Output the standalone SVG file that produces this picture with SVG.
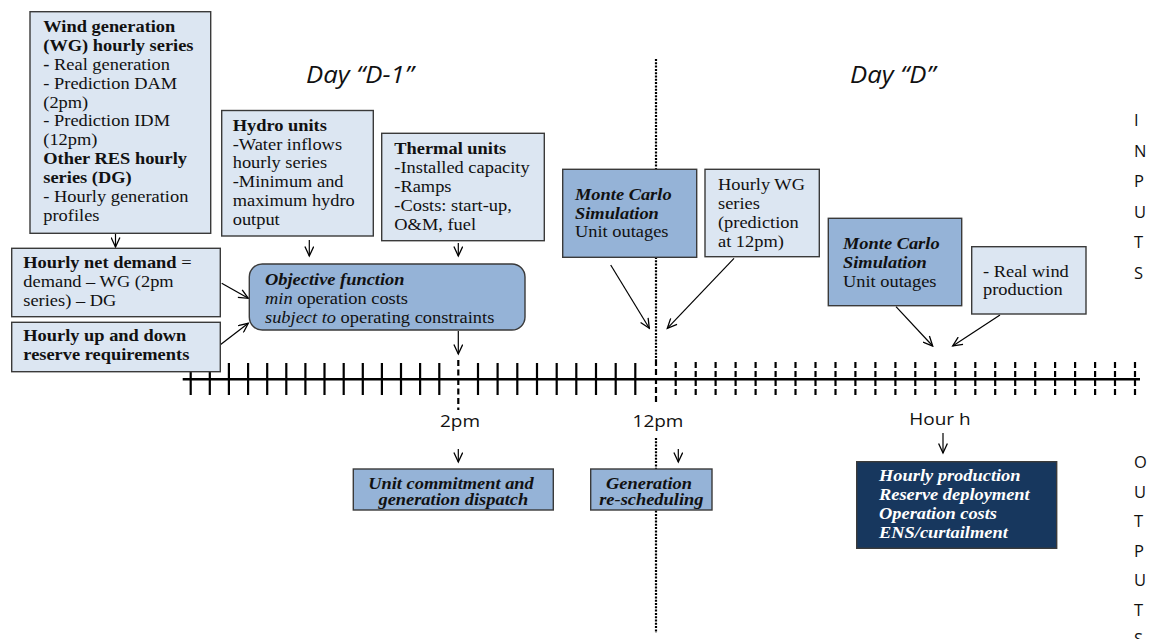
<svg xmlns="http://www.w3.org/2000/svg" width="1151" height="639" viewBox="0 0 1151 639">
  <defs>
    <marker id="v" viewBox="0 0 12 10" refX="10.5" refY="5" markerWidth="12" markerHeight="10" markerUnits="userSpaceOnUse" orient="auto">
      <path d="M1,0.6 L10.5,5 L1,9.4" fill="none" stroke="#000" stroke-width="1.3"/>
    </marker>
    <style>
      .box{stroke:#3a3a3a;stroke-width:1.4}
      .lt{fill:#dce6f2}
      .md{fill:#95b3d7}
      .dk{fill:#17375e}
      .t{font-family:"Liberation Serif","Times New Roman",serif;font-size:16px;fill:#111}
      .w{fill:#fff}
      .b{font-weight:bold}
      .i{font-style:italic}
      .bi{font-weight:bold;font-style:italic}
      .s{font-family:"Open Sans","Liberation Sans",sans-serif;font-size:16.5px;fill:#111}
      .day{font-family:"Open Sans","Liberation Sans",sans-serif;font-size:23px;font-style:italic;fill:#111}
      .ar{stroke:#000;stroke-width:1.2;fill:none;marker-end:url(#v)}
      .tick{stroke:#000;stroke-width:2.2;fill:none}
    </style>
  </defs>
  <rect width="1151" height="639" fill="#fff"/>

  <!-- headings -->
  <text class="day" transform="translate(306 0) scale(1.12 1)" x="0" y="83">Day “D-1”</text>
  <text class="day" transform="translate(850 0) scale(1.12 1)" x="0" y="83">Day “D”</text>

  <!-- side captions -->
  <g class="s">
    <text x="1134" y="126">I</text>
    <text x="1134" y="156.5">N</text>
    <text x="1134" y="187">P</text>
    <text x="1134" y="217.5">U</text>
    <text x="1134" y="248">T</text>
    <text x="1134" y="278.5">S</text>
    <text x="1134" y="468">O</text>
    <text x="1134" y="497.5">U</text>
    <text x="1134" y="527">T</text>
    <text x="1134" y="556.5">P</text>
    <text x="1134" y="586">U</text>
    <text x="1134" y="615.5">T</text>
    <text x="1134" y="645">S</text>
  </g>

  <!-- time axis -->
  <g id="timeline">
    <path d="M656,59V360 M656,438V633" stroke="#000" stroke-width="2.2" stroke-dasharray="2 1.3" fill="none"/>
    <path d="M656,360V402" stroke="#000" stroke-width="2.2" stroke-dasharray="6 3" fill="none"/>
    <path d="M458.3,360V410" stroke="#000" stroke-width="2.2" stroke-dasharray="6 3.5" fill="none"/>
    <path d="M182.7,379.3H1140" stroke="#000" stroke-width="2.6"/>
    <path class="tick" d="M190.7,363V395 M209.8,363V395 M228.9,363V395 M248.1,363V395 M267.2,363V395 M286.3,363V395 M305.4,363V395 M324.5,363V395 M343.7,363V395 M362.8,363V395 M381.9,363V395 M401,363V395 M420.1,363V395 M439.3,363V395 M478,363V395 M497.6,363V395 M517.3,363V395 M537,363V395 M556.7,363V395 M576.3,363V395 M596,363V395 M615.7,363V395 M635.3,363V395"/>
    <path class="tick" stroke-dasharray="6 3" d="M675.7,362V396 M695.7,362V396 M715.6,362V396 M735.6,362V396 M755.6,362V396 M775.6,362V396 M795.5,362V396 M815.5,362V396 M835.5,362V396 M855.4,362V396 M875.4,362V396 M895.4,362V396 M915.3,362V396 M935.3,362V396 M955.3,362V396 M975.3,362V396 M995.2,362V396 M1015.2,362V396 M1035.2,362V396 M1055.1,362V396 M1075.1,362V396 M1095.1,362V396 M1115,362V396 M1135,362V396"/>
    <g class="s" text-anchor="middle">
      <text transform="translate(460 0) scale(1.15 1)" x="0" y="427">2pm</text>
      <text transform="translate(658 0) scale(1.15 1)" x="0" y="427">12pm</text>
      <text transform="translate(940 0) scale(1.15 1)" x="0" y="425">Hour h</text>
    </g>
  </g>

  <!-- connectors -->
  <g id="connectors">
    <path class="ar" d="M115.5,234V247"/>
    <path class="ar" d="M309.3,240V256"/>
    <path class="ar" d="M458.3,243V256"/>
    <path class="ar" d="M221.7,283.3L248.3,298.3"/>
    <path class="ar" d="M220,345L248.3,323.3"/>
    <path class="ar" d="M458.3,331V354"/>
    <path class="ar" d="M610.7,265L649.3,328.3"/>
    <path class="ar" d="M734,258.3L667.3,328.3"/>
    <path class="ar" d="M896,306.7L932.7,346"/>
    <path class="ar" d="M1000,315L952.7,346"/>
    <path class="ar" d="M458.3,449V462"/>
    <path class="ar" d="M678.3,449V462"/>
    <path class="ar" d="M943,433V453"/>
  </g>

  <!-- input data -->
  <g id="wind-res-series">
    <rect class="box lt" x="30" y="11.7" width="180.7" height="221.6"/>
    <text class="t" transform="translate(43.3 0) scale(1.15 1)">
      <tspan class="b" x="0" y="32">Wind generation</tspan>
      <tspan class="b" x="0" y="50.9">(WG) hourly series</tspan>
      <tspan x="0" y="69.8"><tspan class="b">-</tspan> Real generation</tspan>
      <tspan x="0" y="88.7">- Prediction DAM</tspan>
      <tspan x="0" y="107.6">(2pm)</tspan>
      <tspan x="0" y="126.5">- Prediction IDM</tspan>
      <tspan x="0" y="145.4">(12pm)</tspan>
      <tspan class="b" x="0" y="164.3">Other RES hourly</tspan>
      <tspan class="b" x="0" y="183.2">series (DG)</tspan>
      <tspan x="0" y="202.1">- Hourly generation</tspan>
      <tspan x="0" y="221">profiles</tspan>
    </text>
  </g>

  <g id="hydro-units">
    <rect class="box lt" x="221.7" y="110.5" width="151.6" height="125.5"/>
    <text class="t" transform="translate(232.7 0) scale(1.15 1)">
      <tspan class="b" x="0" y="130.7">Hydro units</tspan>
      <tspan x="0" y="149.6">-Water inflows</tspan>
      <tspan x="0" y="168.5">hourly series</tspan>
      <tspan x="0" y="187.4">-Minimum and</tspan>
      <tspan x="0" y="206.3">maximum hydro</tspan>
      <tspan x="0" y="225.2">output</tspan>
    </text>
  </g>

  <g id="thermal-units">
    <rect class="box lt" x="381.7" y="133.3" width="162.6" height="107.4"/>
    <text class="t" transform="translate(394.3 0) scale(1.15 1)">
      <tspan class="b" x="0" y="154">Thermal units</tspan>
      <tspan x="0" y="173">-Installed capacity</tspan>
      <tspan x="0" y="192">-Ramps</tspan>
      <tspan x="0" y="211">-Costs: start-up,</tspan>
      <tspan x="0" y="230">O&amp;M, fuel</tspan>
    </text>
  </g>

  <g id="net-demand">
    <rect class="box lt" x="11.7" y="248.3" width="208.6" height="68.4"/>
    <text class="t" transform="translate(23.3 0) scale(1.15 1)">
      <tspan x="0" y="268.3"><tspan class="b">Hourly net demand</tspan> =</tspan>
      <tspan x="0" y="287.3">demand – WG (2pm</tspan>
      <tspan x="0" y="306.3">series) – DG</tspan>
    </text>
  </g>

  <g id="reserve-requirements">
    <rect class="box lt" x="11.7" y="322.3" width="208.6" height="49.4"/>
    <text class="t b" transform="translate(23.3 0) scale(1.15 1)">
      <tspan x="0" y="341.5">Hourly up and down</tspan>
      <tspan x="0" y="360.5">reserve requirements</tspan>
    </text>
  </g>

  <g id="objective-function">
    <rect class="box md" x="249.3" y="264" width="275.7" height="66" rx="13" ry="13" stroke="#2a2a2a"/>
    <text class="t" transform="translate(265 0) scale(1.15 1)">
      <tspan class="bi" x="0" y="285">Objective function</tspan>
      <tspan x="0" y="304"><tspan class="i">min</tspan> operation costs</tspan>
      <tspan x="0" y="323"><tspan class="i">subject to</tspan> operating constraints</tspan>
    </text>
  </g>

  <g id="monte-carlo-d1">
    <rect class="box md" x="562.7" y="169.3" width="134" height="88"/>
    <text class="t" transform="translate(575 0) scale(1.15 1)">
      <tspan class="bi" x="0" y="200">Monte Carlo</tspan>
      <tspan class="bi" x="0" y="218.8">Simulation</tspan>
      <tspan x="0" y="237">Unit outages</tspan>
    </text>
  </g>

  <g id="wg-prediction-12pm">
    <rect class="box lt" x="705" y="169.3" width="114.3" height="87.4"/>
    <text class="t" transform="translate(718 0) scale(1.15 1)">
      <tspan x="0" y="190">Hourly WG</tspan>
      <tspan x="0" y="209">series</tspan>
      <tspan x="0" y="228">(prediction</tspan>
      <tspan x="0" y="247">at 12pm)</tspan>
    </text>
  </g>

  <g id="monte-carlo-d">
    <rect class="box md" x="828.3" y="218.3" width="133.4" height="87.4"/>
    <text class="t" transform="translate(843 0) scale(1.15 1)">
      <tspan class="bi" x="0" y="249">Monte Carlo</tspan>
      <tspan class="bi" x="0" y="268">Simulation</tspan>
      <tspan x="0" y="287">Unit outages</tspan>
    </text>
  </g>

  <g id="real-wind">
    <rect class="box lt" x="971.7" y="246.7" width="114.3" height="67.3"/>
    <text class="t" transform="translate(983 0) scale(1.15 1)">
      <tspan x="0" y="277">- Real wind</tspan>
      <tspan x="0" y="295.5">production</tspan>
    </text>
  </g>

  <!-- results -->
  <g id="unit-commitment">
    <rect class="box md" x="353.3" y="469" width="200" height="41"/>
    <text class="t bi" text-anchor="middle" transform="translate(453.3 0) scale(1.15 1)">
      <tspan x="0" y="489.5">Unit commitment and</tspan>
      <tspan x="0" y="505.5">generation dispatch</tspan>
    </text>
  </g>

  <g id="rescheduling">
    <rect class="box md" x="590.7" y="469" width="121.3" height="41"/>
    <text class="t bi" text-anchor="middle" transform="translate(651.3 0) scale(1.15 1)">
      <tspan x="0" y="489.5">Generation</tspan>
      <tspan x="0" y="505.5">re-scheduling</tspan>
    </text>
  </g>

  <g id="hourly-outputs">
    <rect class="box dk" x="856.7" y="461.7" width="200" height="86.6"/>
    <text class="t bi w" transform="translate(879 0) scale(1.15 1)">
      <tspan x="0" y="481.5">Hourly production</tspan>
      <tspan x="0" y="500.3">Reserve deployment</tspan>
      <tspan x="0" y="519">Operation costs</tspan>
      <tspan x="0" y="537.7">ENS/curtailment</tspan>
    </text>
  </g>
</svg>
